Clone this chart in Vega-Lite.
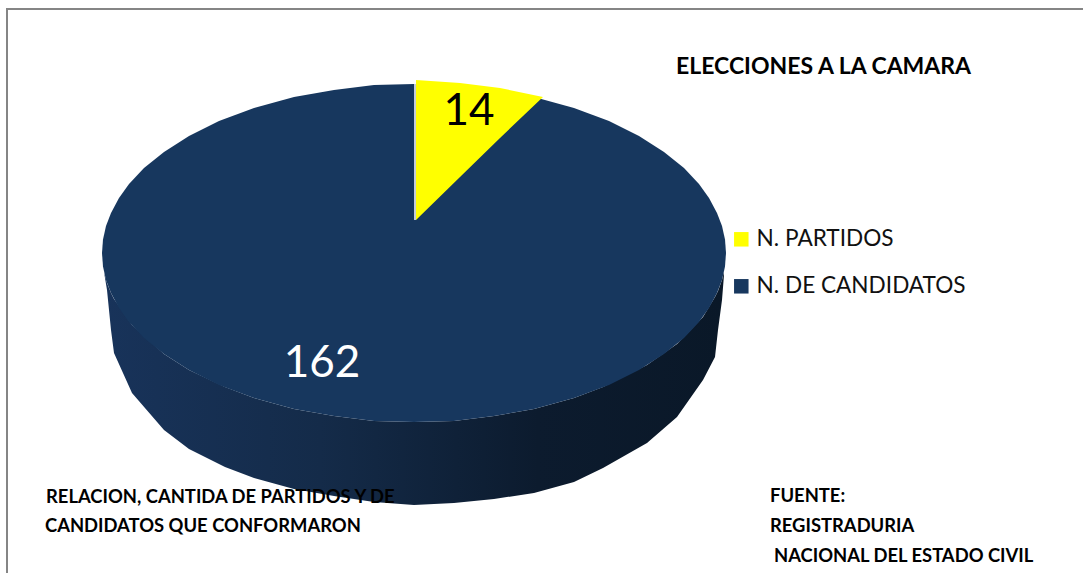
{"$schema":"https://vega.github.io/schema/vega-lite/v6.json","width":1083,"height":573,"autosize":"none","padding":0,"background":"white","config":{"view":{"stroke":null}},"datasets":{"tapa":[{"serie":"N. DE CANDIDATOS","x":102,"y":253,"y2":253},{"serie":"N. DE CANDIDATOS","x":103,"y":239.5,"y2":266.5},{"serie":"N. DE CANDIDATOS","x":106,"y":226,"y2":280},{"serie":"N. DE CANDIDATOS","x":111,"y":213,"y2":293},{"serie":"N. DE CANDIDATOS","x":119,"y":198,"y2":308},{"serie":"N. DE CANDIDATOS","x":129,"y":184,"y2":322},{"serie":"N. DE CANDIDATOS","x":144,"y":168,"y2":338},{"serie":"N. DE CANDIDATOS","x":164,"y":152,"y2":354},{"serie":"N. DE CANDIDATOS","x":189,"y":136,"y2":370},{"serie":"N. DE CANDIDATOS","x":219,"y":121,"y2":385},{"serie":"N. DE CANDIDATOS","x":254,"y":108,"y2":398},{"serie":"N. DE CANDIDATOS","x":294,"y":97,"y2":409},{"serie":"N. DE CANDIDATOS","x":334,"y":90,"y2":416},{"serie":"N. DE CANDIDATOS","x":374,"y":85,"y2":421},{"serie":"N. DE CANDIDATOS","x":414,"y":84,"y2":422},{"serie":"N. DE CANDIDATOS","x":454,"y":85,"y2":421},{"serie":"N. DE CANDIDATOS","x":494,"y":90,"y2":416},{"serie":"N. DE CANDIDATOS","x":534,"y":97,"y2":409},{"serie":"N. DE CANDIDATOS","x":574,"y":108,"y2":398},{"serie":"N. DE CANDIDATOS","x":609,"y":121,"y2":385},{"serie":"N. DE CANDIDATOS","x":639,"y":136,"y2":370},{"serie":"N. DE CANDIDATOS","x":664,"y":152,"y2":354},{"serie":"N. DE CANDIDATOS","x":684,"y":168,"y2":338},{"serie":"N. DE CANDIDATOS","x":699,"y":184,"y2":322},{"serie":"N. DE CANDIDATOS","x":709,"y":198,"y2":308},{"serie":"N. DE CANDIDATOS","x":717,"y":213,"y2":293},{"serie":"N. DE CANDIDATOS","x":722,"y":226,"y2":280},{"serie":"N. DE CANDIDATOS","x":725,"y":239.5,"y2":266.5},{"serie":"N. DE CANDIDATOS","x":726,"y":253,"y2":253},{"serie":"N. PARTIDOS","x":416,"y":80,"y2":220},{"serie":"N. PARTIDOS","x":460,"y":83,"y2":177},{"serie":"N. PARTIDOS","x":500,"y":88,"y2":138},{"serie":"N. PARTIDOS","x":543,"y":97,"y2":97}],"lado":[{"x":104,"y":272,"y2":272},{"x":107,"y":283,"y2":290},{"x":111,"y":293,"y2":330},{"x":114,"y":299,"y2":353},{"x":132,"y":325,"y2":393},{"x":164,"y":354,"y2":430},{"x":189,"y":370,"y2":449},{"x":225,"y":387,"y2":467},{"x":254,"y":398,"y2":478},{"x":294,"y":409,"y2":489},{"x":334,"y":416,"y2":496},{"x":374,"y":421,"y2":502},{"x":414,"y":422,"y2":505},{"x":454,"y":421,"y2":503},{"x":494,"y":416,"y2":499},{"x":534,"y":409,"y2":493},{"x":574,"y":398,"y2":482},{"x":603,"y":387,"y2":468},{"x":647,"y":365,"y2":443},{"x":677,"y":344,"y2":417},{"x":703,"y":317,"y2":380},{"x":715,"y":297,"y2":357},{"x":718,"y":291,"y2":330},{"x":722,"y":280,"y2":300},{"x":724,"y":272,"y2":275}],"marco":[{"x":7,"y":573,"o":1},{"x":7,"y":9,"o":2},{"x":1083,"y":9,"o":3}],"valores":[{"serie":"N. PARTIDOS","valor":14,"x":469,"y":125,"color":"black"},{"serie":"N. DE CANDIDATOS","valor":162,"x":322,"y":377,"color":"white"}],"textos":[{"t":"ELECCIONES A LA CAMARA","x":676,"y":74,"s":"titulo"},{"t":"RELACION, CANTIDA DE PARTIDOS Y DE","x":46,"y":503,"s":"nota"},{"t":"CANDIDATOS QUE CONFORMARON","x":45,"y":532,"s":"nota"},{"t":"FUENTE:","x":770,"y":502,"s":"nota"},{"t":"REGISTRADURIA","x":770,"y":532,"s":"nota"},{"t":"NACIONAL DEL ESTADO CIVIL","x":774,"y":562,"s":"nota"}]},"layer":[{"data":{"name":"marco"},"mark":{"type":"line","color":"#858585","strokeWidth":2},"encoding":{"x":{"field":"x","type":"quantitative","scale":{"domain":[0,1083],"nice":false,"zero":false},"axis":null},"y":{"field":"y","type":"quantitative","scale":{"domain":[573,0],"nice":false,"zero":false},"axis":null},"order":{"field":"o"}}},{"data":{"name":"lado"},"mark":{"type":"area","interpolate":"linear","color":{"gradient":"linear","x1":0,"y1":0,"x2":1,"y2":0,"stops":[{"offset":0,"color":"#18335a"},{"offset":0.35,"color":"#142b49"},{"offset":0.7,"color":"#0c1b2e"},{"offset":1,"color":"#0a1828"}]}},"encoding":{"x":{"field":"x","type":"quantitative","axis":null},"y":{"field":"y","type":"quantitative","axis":null},"y2":{"field":"y2"}}},{"data":{"name":"tapa"},"mark":{"type":"area","interpolate":"linear"},"encoding":{"x":{"field":"x","type":"quantitative","axis":null},"y":{"field":"y","type":"quantitative","axis":null},"y2":{"field":"y2"},"color":{"field":"serie","type":"nominal","scale":{"domain":["N. PARTIDOS","N. DE CANDIDATOS"],"range":["#FFFF00","#17375E"]},"legend":{"title":null,"orient":"none","legendX":730,"legendY":228,"symbolType":"square","symbolSize":210,"symbolStrokeWidth":0,"labelFont":"Lato","labelFontSize":22.6,"labelColor":"#111111","rowPadding":24,"labelOffset":4,"labelLimit":300}}}},{"data":{"values":[{"x":415,"y":84,"y2":220}]},"mark":{"type":"rule","color":"white","strokeWidth":1.5},"encoding":{"x":{"field":"x","type":"quantitative"},"y":{"field":"y","type":"quantitative"},"y2":{"field":"y2"}}},{"data":{"name":"valores"},"mark":{"type":"text","font":"Lato","fontSize":44,"align":"center","baseline":"alphabetic"},"encoding":{"x":{"field":"x","type":"quantitative"},"y":{"field":"y","type":"quantitative"},"text":{"field":"valor"},"color":{"field":"color","type":"nominal","scale":null}}},{"data":{"name":"textos"},"transform":[{"filter":"datum.s=='titulo'"}],"mark":{"type":"text","font":"Lato","fontWeight":"bold","fontSize":23,"align":"left","baseline":"alphabetic","color":"black"},"encoding":{"x":{"field":"x","type":"quantitative"},"y":{"field":"y","type":"quantitative"},"text":{"field":"t"}}},{"data":{"name":"textos"},"transform":[{"filter":"datum.s=='nota'"}],"mark":{"type":"text","font":"Lato","fontWeight":"bold","fontSize":18.4,"align":"left","baseline":"alphabetic","color":"black"},"encoding":{"x":{"field":"x","type":"quantitative"},"y":{"field":"y","type":"quantitative"},"text":{"field":"t"}}}],"resolve":{"scale":{"color":"independent"}}}
